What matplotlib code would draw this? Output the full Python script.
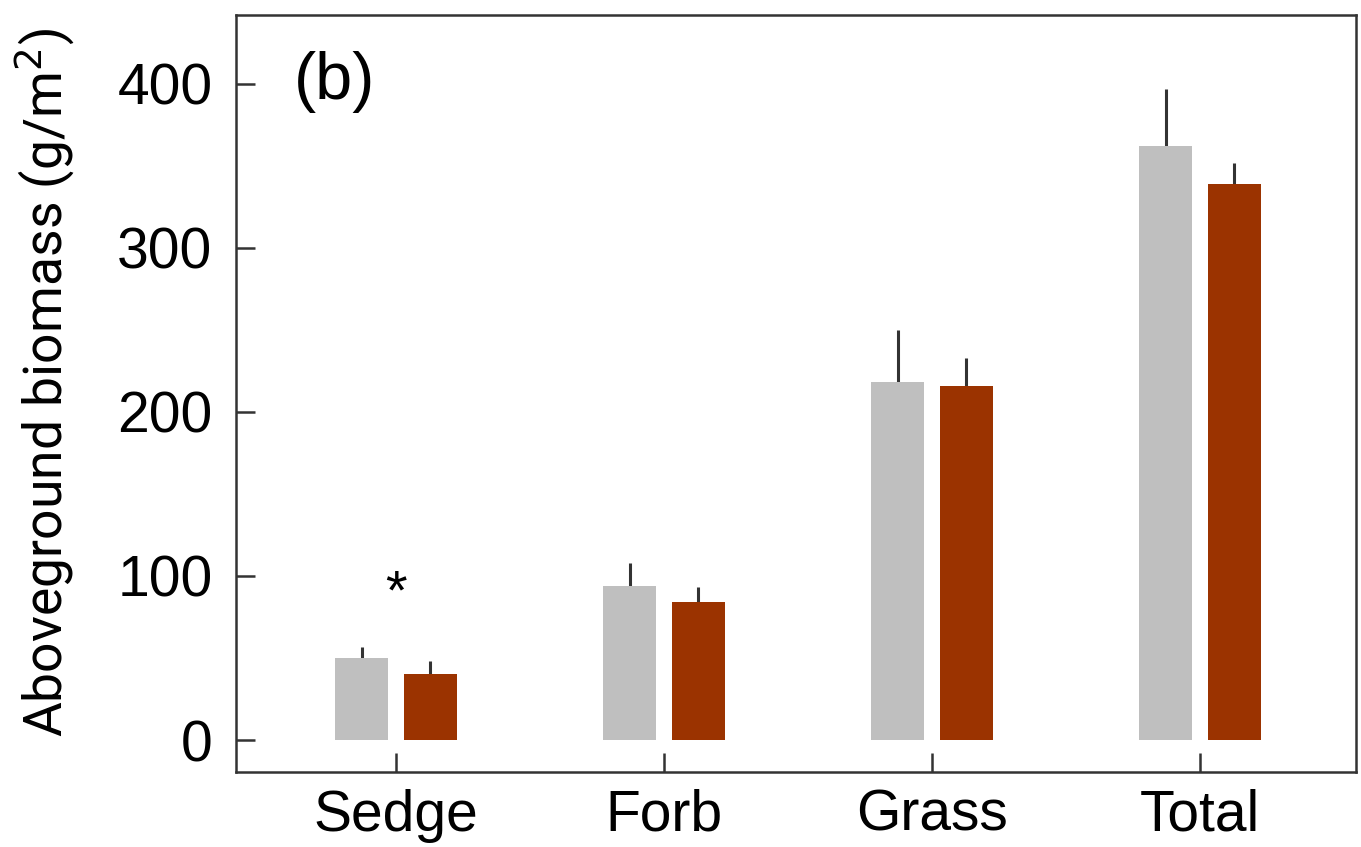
import matplotlib
matplotlib.use("Agg")
import matplotlib.pyplot as plt
import numpy as np

categories = ["Sedge", "Forb", "Grass", "Total"]
control = [50, 94, 218, 362]
control_err = [7, 14, 32, 35]
treat = [40, 84, 216, 339]
treat_err = [8, 9, 17, 13]
yticks = [0, 100, 200, 300, 400]

plt.rcParams['font.family'] = ['Liberation Sans', 'DejaVu Sans']

fig = plt.figure(figsize=(13.61, 8.47), dpi=100)
ax = fig.add_axes([236/1361, 1-772/847, (1356-236)/1361, (772-15)/847])

x = np.arange(len(categories))
off = 0.128
w = 0.197
gray = "#bfbfbf"
brown = "#9b3300"
ax.bar(x - off, control, w, color=gray, zorder=2)
ax.bar(x + off, treat, w, color=brown, zorder=2)
ax.errorbar(x - off, control, yerr=[np.zeros(4), control_err], fmt='none',
            ecolor="#333333", elinewidth=2.2, capsize=0, zorder=1)
ax.errorbar(x + off, treat, yerr=[np.zeros(4), treat_err], fmt='none',
            ecolor="#333333", elinewidth=2.2, capsize=0, zorder=1)

ax.set_xlim(-0.597, 3.582)
ax.set_ylim(-19.5, 442)
ax.set_yticks(yticks)
ax.set_xticks(x)
ax.set_xticklabels(categories, fontsize=41)
ax.tick_params(axis='y', direction='in', length=13.5, width=1.8, labelsize=41, pad=17, color="#333333")
ax.tick_params(axis='x', direction='in', length=13.5, width=1.8, pad=12, color="#333333")
for s in ax.spines.values():
    s.set_linewidth(1.8)
    s.set_color("#333333")

ax.set_ylabel("Aboveground biomass (g/m$^2$)", fontsize=38.5, family=['Roboto', 'DejaVu Sans'])
ax.yaxis.set_label_coords(-0.142, 0.515)
ax.text(0.052, 0.912, "(b)", transform=ax.transAxes, fontsize=48, ha='left', va='center')
ax.text(0, 89, "*", fontsize=40, ha='center', va='center')

fig.savefig("out.png", dpi=100)
